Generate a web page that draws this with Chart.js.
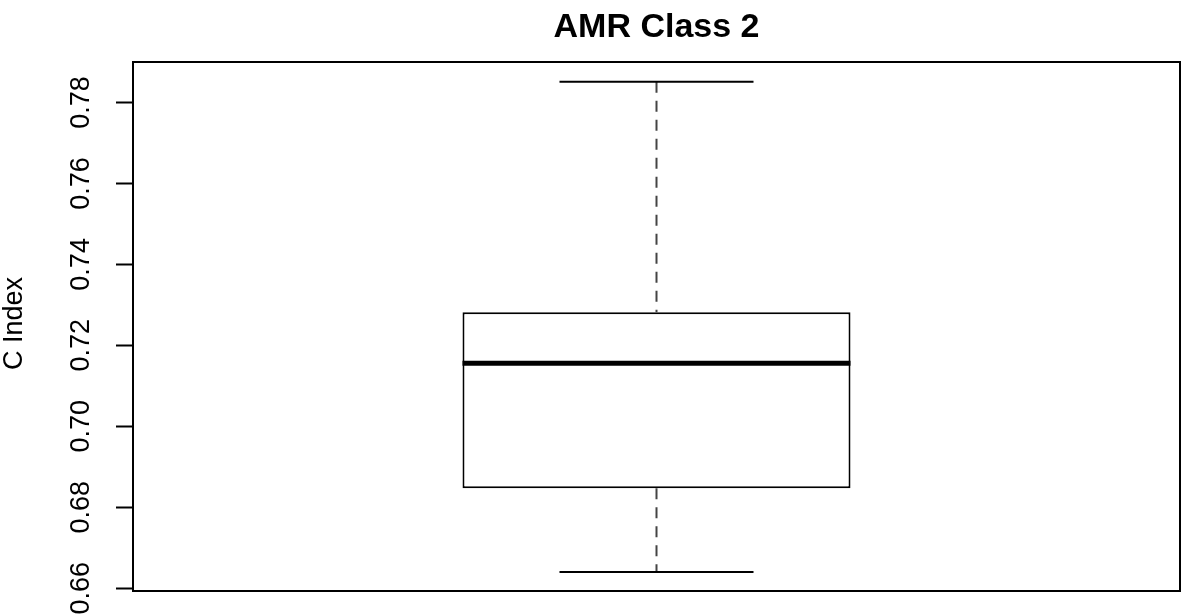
<!DOCTYPE html>
<html>
<head>
<meta charset="utf-8">
<script src="https://cdn.jsdelivr.net/npm/chart.js@4"></script>
<style>
  body { margin: 0; background: #fff; }
  #wrap { width: 1198px; height: 614px; position: relative; }
</style>
</head>
<body>
<div id="wrap"><canvas id="myChart"></canvas></div>
<script>
// boxplot stats
var categories = ['AMR Class 2'];
var whiskerLow = [0.6640];
var q1 = [0.6847];
var median = [0.7156];
var q3 = [0.7282];
var whiskerHigh = [0.7851];
var tickValues = [0.66, 0.68, 0.70, 0.72, 0.74, 0.76, 0.78];
var tickLabels = ['0.66', '0.68', '0.70', '0.72', '0.74', '0.76', '0.78'];
var yTitle = 'C Index';

var FONT = '"Liberation Sans", Arial, Helvetica, sans-serif';

var boxPlot = {
    id: 'boxPlot',
    afterDatasetsDraw: function (chart) {
        var ctx = chart.ctx;
        var y = chart.scales.y;
        var meta = chart.getDatasetMeta(0);
        meta.data.forEach(function (bar, i) {
            var x = bar.x;
            var half = bar.width / 2;
            var cap = half / 2;
            ctx.save();
            ctx.strokeStyle = '#444444';
            ctx.lineWidth = 2;
            ctx.setLineDash([11, 8]);
            ctx.beginPath();
            ctx.moveTo(x, y.getPixelForValue(whiskerHigh[i]));
            ctx.lineTo(x, y.getPixelForValue(q3[i]));
            ctx.moveTo(x, y.getPixelForValue(q1[i]));
            ctx.lineTo(x, y.getPixelForValue(whiskerLow[i]));
            ctx.stroke();
            ctx.setLineDash([]);
            ctx.strokeStyle = '#000';
            ctx.beginPath();
            ctx.moveTo(x - cap, y.getPixelForValue(whiskerHigh[i]));
            ctx.lineTo(x + cap, y.getPixelForValue(whiskerHigh[i]));
            ctx.moveTo(x - cap, y.getPixelForValue(whiskerLow[i]));
            ctx.lineTo(x + cap, y.getPixelForValue(whiskerLow[i]));
            ctx.stroke();
            ctx.lineWidth = 5;
            ctx.beginPath();
            ctx.moveTo(x - half, y.getPixelForValue(median[i]));
            ctx.lineTo(x + half, y.getPixelForValue(median[i]));
            ctx.stroke();
            ctx.restore();
        });
    },
    afterDraw: function (chart) {
        var ctx = chart.ctx;
        var a = chart.chartArea;
        var y = chart.scales.y;
        ctx.save();
        // plot frame
        ctx.strokeStyle = '#000';
        ctx.lineWidth = 2;
        ctx.strokeRect(a.left, a.top, a.right - a.left, a.bottom - a.top);
        // title
        ctx.fillStyle = '#000';
        ctx.font = 'bold 34px ' + FONT;
        ctx.textAlign = 'center';
        ctx.textBaseline = 'alphabetic';
        ctx.fillText(categories[0], (a.left + a.right) / 2, 37);
        // rotated tick labels
        ctx.font = '27px ' + FONT;
        ctx.textBaseline = 'middle';
        tickValues.forEach(function (v, i) {
            ctx.save();
            ctx.translate(82, y.getPixelForValue(v));
            ctx.rotate(-Math.PI / 2);
            ctx.fillText(tickLabels[i], 0, 0);
            ctx.restore();
        });
        // axis title
        ctx.save();
        ctx.translate(15, (a.top + a.bottom) / 2 - 3);
        ctx.rotate(-Math.PI / 2);
        ctx.fillText(yTitle, 0, 0);
        ctx.restore();
        ctx.restore();
    }
};

var ctx = document.getElementById('myChart').getContext('2d');
var myChart = new Chart(ctx, {
    type: 'bar',
    data: {
        labels: categories,
        datasets: [
            {
                data: categories.map(function (c, i) { return [q1[i], q3[i]]; }),
                backgroundColor: '#ffffff',
                borderColor: '#000000',
                borderWidth: 2,
                borderSkipped: false,
                barPercentage: 0.3706,
                categoryPercentage: 1,
            },
        ],
    },
    options: {
        responsive: true,
        maintainAspectRatio: false,
        animation: false,
        layout: { padding: { top: 62, right: 18, bottom: 23, left: 0 } },
        plugins: {
            legend: { display: false },
            title: { display: false },
            tooltip: { enabled: false },
        },
        scales: {
            x: { display: false },
            y: {
                min: 0.6593,
                max: 0.7900,
                afterBuildTicks: function (scale) {
                    scale.ticks = tickValues.map(function (v) { return { value: v }; });
                },
                afterFit: function (scale) { scale.width = 133; },
                ticks: { display: false },
                border: { display: false },
                grid: {
                    drawOnChartArea: false,
                    drawTicks: true,
                    tickLength: 17,
                    tickWidth: 2,
                    color: '#000',
                },
            },
        },
    },
    plugins: [boxPlot],
});
</script>
</body>
</html>
